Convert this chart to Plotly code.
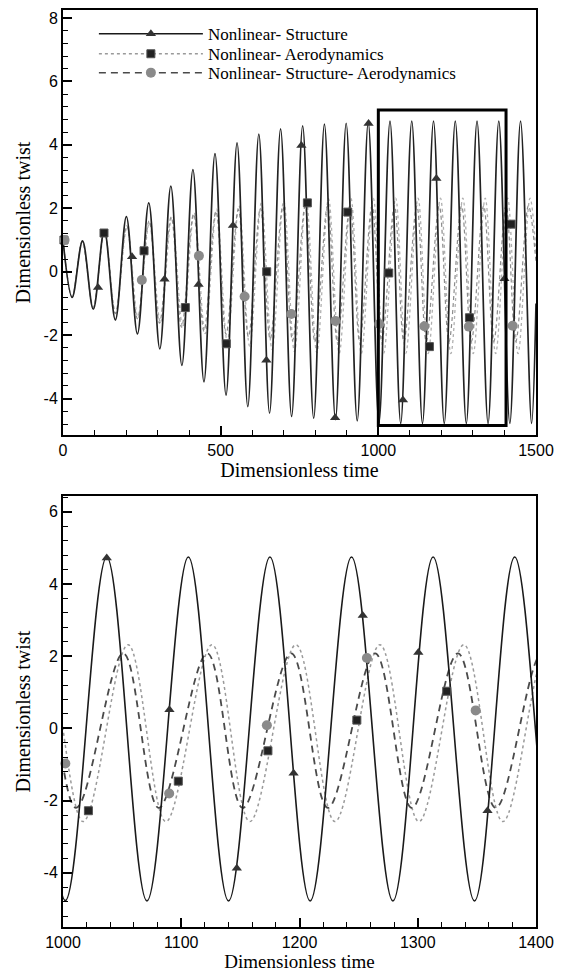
import plotly.graph_objects as go

# ---------------- data ----------------
# Nonlinear- Structure : extrema of the oscillation (time, twist)
struct_t = [0, 29, 62, 96, 131, 166, 201, 236, 272, 307, 342, 377, 412, 447, 482, 517,
            552, 586, 621, 655, 690, 725, 760, 795, 829, 864, 898, 933, 968, 1002, 1037,
            1071, 1106, 1140, 1175, 1209, 1244, 1279, 1313, 1348, 1382, 1417, 1451, 1486, 1500]
struct_y = [1.0, -0.81, 0.97, -1.18, 1.31, -1.52, 1.74, -1.96, 2.17, -2.43, 2.7, -2.95, 3.22,
            -3.47, 3.72, -3.89, 4.06, -4.25, 4.34, -4.46, 4.5, -4.56, 4.6, -4.62, 4.65, -4.66,
            4.68, -4.7, 4.71, -4.77, 4.75, -4.78, 4.75, -4.78, 4.75, -4.78, 4.75, -4.78, 4.75,
            -4.78, 4.75, -4.78, 4.75, -4.78, -1.0]

# Nonlinear- Aerodynamics : extrema
aero_t = [0, 29, 61, 96, 132, 167, 203, 238, 274, 309, 345, 380, 416, 451, 487, 521, 558,
          592, 629, 663, 700, 734, 771, 805, 842, 876, 913, 946, 984, 1017, 1055, 1087, 1126,
          1158, 1197, 1230, 1268, 1301, 1339, 1372, 1410, 1443, 1481, 1500]
aero_y = [1.0, -0.8, 0.95, -1.1, 1.22, -1.3, 1.4, -1.45, 1.55, -1.6, 1.7, -1.75, 1.85, -1.95,
          1.97, -2.2, 2.08, -2.35, 2.17, -2.45, 2.23, -2.52, 2.28, -2.55, 2.3, -2.57, 2.32,
          -2.58, 2.32, -2.58, 2.32, -2.58, 2.32, -2.58, 2.32, -2.58, 2.32, -2.58, 2.32, -2.58,
          2.32, -2.58, 2.32, 0.6]

# Nonlinear- Structure- Aerodynamics : extrema
sa_t = [0, 29, 61, 96, 131, 166, 202, 236, 273, 306, 343, 376, 414, 447, 485, 517, 556, 588,
        626, 657, 697, 728, 768, 799, 839, 870, 910, 941, 980, 1011, 1051, 1081, 1122, 1152,
        1193, 1224, 1264, 1295, 1334, 1366, 1405, 1436, 1476, 1500]
sa_y = [1.0, -0.8, 0.97, -1.15, 1.27, -1.32, 1.45, -1.48, 1.6, -1.62, 1.72, -1.75, 1.82, -1.87,
        1.9, -1.97, 1.96, -2.05, 2.0, -2.12, 2.05, -2.17, 2.07, -2.2, 2.08, -2.2, 2.08, -2.2,
        2.08, -2.2, 2.08, -2.2, 2.08, -2.2, 2.08, -2.2, 2.08, -2.2, 2.08, -2.2, 2.08, -2.2,
        2.08, 0.3]

# symbols on the curves, upper panel
tri_top_t = [111, 219, 322, 430, 539, 645, 756, 863, 969, 1078, 1184, 1400]
tri_top_y = [-0.5, 0.47, -0.24, -0.4, 1.46, -2.79, 3.98, -4.6, 4.67, -4.04, 2.94, -0.22]
sq_top_t = [3, 130, 257, 388, 518, 646, 775, 903, 1033, 1162, 1289, 1421]
sq_top_y = [1.0, 1.22, 0.66, -1.13, -2.27, 0.0, 2.17, 1.88, -0.04, -2.36, -1.45, 1.5]
ci_top_t = [5, 250, 431, 576, 724, 864, 1003, 1146, 1287, 1426]
ci_top_y = [1.0, -0.26, 0.5, -0.78, -1.33, -1.55, -1.65, -1.72, -1.73, -1.7]

# symbols on the curves, lower panel
tri_bot_t = [1037, 1090, 1147, 1195, 1253.5, 1300.5, 1359]
tri_bot_y = [4.72, 0.52, -3.87, -1.24, 3.13, 2.1, -2.28]
sq_bot_t = [1021.5, 1097.5, 1173.3, 1248.5, 1324.5]
sq_bot_y = [-2.28, -1.46, -0.62, 0.23, 1.03]
ci_bot_t = [1002, 1089.8, 1172.4, 1257, 1349]
ci_bot_y = [-0.97, -1.8, 0.09, 1.95, 0.5]

# zoom window drawn on the upper panel
box_t = [1000, 1405]
box_y = [-4.85, 5.1]

# ticks
top_xticks = [0, 500, 1000, 1500]
top_yticks = [-4, -2, 0, 2, 4, 6, 8]
bot_xticks = [1000, 1100, 1200, 1300, 1400]
bot_yticks = [-4, -2, 0, 2, 4, 6]

names = ["Nonlinear- Structure", "Nonlinear- Aerodynamics",
         "Nonlinear- Structure- Aerodynamics"]

# ---------------- styles ----------------
S_LINE_T = dict(color="#222222", width=1.7, shape="spline")
A_LINE_T = dict(color="#b0b0b0", width=1.3, dash="dot", shape="spline")
SA_LINE_T = dict(color="#8c8c8c", width=1.2, dash="4px,3px", shape="spline")
S_LINE = dict(color="#1a1a1a", width=1.6, shape="spline")
A_LINE = dict(color="#9a9a9a", width=1.5, dash="dot", shape="spline")
SA_LINE = dict(color="#4a4a4a", width=1.8, dash="7px,5px", shape="spline")
TRI = dict(symbol="triangle-up", size=9, color="#333333")
SQ = dict(symbol="square", size=8, color="#222222", line=dict(color="#555555", width=1))
CI = dict(symbol="circle", size=10, color="#8a8a8a")

fig = go.Figure()

for xa, ya, styles in (("x", "y", (A_LINE_T, SA_LINE_T, S_LINE_T)),
                       ("x2", "y2", (A_LINE, SA_LINE, S_LINE))):
    fig.add_trace(go.Scatter(x=aero_t, y=aero_y, mode="lines", line=styles[0],
                             xaxis=xa, yaxis=ya, showlegend=False, hoverinfo="skip"))
    fig.add_trace(go.Scatter(x=sa_t, y=sa_y, mode="lines", line=styles[1],
                             xaxis=xa, yaxis=ya, showlegend=False, hoverinfo="skip"))
    fig.add_trace(go.Scatter(x=struct_t, y=struct_y, mode="lines", line=styles[2],
                             xaxis=xa, yaxis=ya, showlegend=False, hoverinfo="skip"))

for (tt, yy, mk, xa, ya) in [
    (tri_top_t, tri_top_y, TRI, "x", "y"), (sq_top_t, sq_top_y, SQ, "x", "y"),
    (ci_top_t, ci_top_y, CI, "x", "y"),
    (tri_bot_t, tri_bot_y, TRI, "x2", "y2"), (sq_bot_t, sq_bot_y, SQ, "x2", "y2"),
    (ci_bot_t, ci_bot_y, CI, "x2", "y2")]:
    fig.add_trace(go.Scatter(x=tt, y=yy, mode="markers", marker=mk, xaxis=xa, yaxis=ya,
                             showlegend=False, cliponaxis=False))

# legend entries, one legend per row so the rows can be spaced like the original
LEG_FONT = dict(family="Liberation Serif, Times New Roman, serif", size=17, color="black")
legend_ids = ["legend", "legend2", "legend3"]
legend_rows_y = [0.9735, 0.9518, 0.9312]
for nm, ln, mk, lid in zip(names, [S_LINE, A_LINE, SA_LINE], [TRI, SQ, CI], legend_ids):
    lnl = dict(ln)
    lnl.pop("shape")
    lnl["width"] = 1.5
    fig.add_trace(go.Scatter(x=[None], y=[None], mode="lines+markers", name=nm,
                             line=lnl, marker=mk, xaxis="x", yaxis="y", legend=lid))

fig.add_shape(type="rect", xref="x", yref="y", x0=box_t[0], x1=box_t[1],
              y0=box_y[0], y1=box_y[1], line=dict(color="black", width=3))

TICKF = dict(family="Liberation Sans, Arial, sans-serif", size=16, color="black")
TITLEF = dict(family="Liberation Serif, Times New Roman, serif", size=20, color="black")
TITLEF_B = dict(family="Liberation Serif, Times New Roman, serif", size=19, color="black")

def ax(**kw):
    base = dict(showline=True, linecolor="black", linewidth=2, mirror=True,
                ticks="inside", ticklen=9, tickwidth=1.5, tickcolor="black",
                showgrid=False, zeroline=False, tickfont=TICKF)
    base.update(kw)
    return base

legends = {}
for lid, ly in zip(legend_ids, legend_rows_y):
    legends[lid] = dict(x=0.0653, y=ly, xanchor="left", yanchor="middle",
                        bgcolor="rgba(0,0,0,0)", font=LEG_FONT, itemwidth=104)

# the page body has an 8 px margin: size the figure so the plot lands where the original is
fig.update_layout(
    width=555, height=964,
    margin=dict(l=55, r=27, t=0, b=45),
    paper_bgcolor="white", plot_bgcolor="white",
    xaxis=ax(domain=[0, 1], anchor="y", range=[0, 1500],
             tickvals=top_xticks, ticktext=[str(v) for v in top_xticks],
             minor=dict(dtick=100, ticks="inside", ticklen=5, tickcolor="black", tickwidth=1),
             title=dict(text="Dimensionless time", font=TITLEF, standoff=2)),
    yaxis=ax(domain=[0.5364, 1], anchor="x", range=[-5.15, 8.25],
             tickvals=top_yticks, ticktext=[str(v) for v in top_yticks],
             minor=dict(dtick=0.4, tick0=0, ticks="inside", ticklen=5, tickcolor="black", tickwidth=1),
             title=dict(text="Dimensionless twist", font=TITLEF, standoff=8)),
    xaxis2=ax(domain=[0, 1], anchor="y2", range=[1000, 1400],
              tickvals=bot_xticks, ticktext=[str(v) for v in bot_xticks],
              minor=dict(dtick=20, ticks="inside", ticklen=5, tickcolor="black", tickwidth=1),
              title=dict(text="Dimensionless time", font=TITLEF_B, standoff=1)),
    yaxis2=ax(domain=[0, 0.4697], anchor="x2", range=[-5.5, 6.43],
              tickvals=bot_yticks, ticktext=[str(v) for v in bot_yticks],
              minor=dict(dtick=0.4, tick0=0, ticks="inside", ticklen=5, tickcolor="black", tickwidth=1),
              title=dict(text="Dimensionless twist", font=TITLEF, standoff=8)),
    showlegend=True,
    **legends,
)

fig.write_html("out.html")
